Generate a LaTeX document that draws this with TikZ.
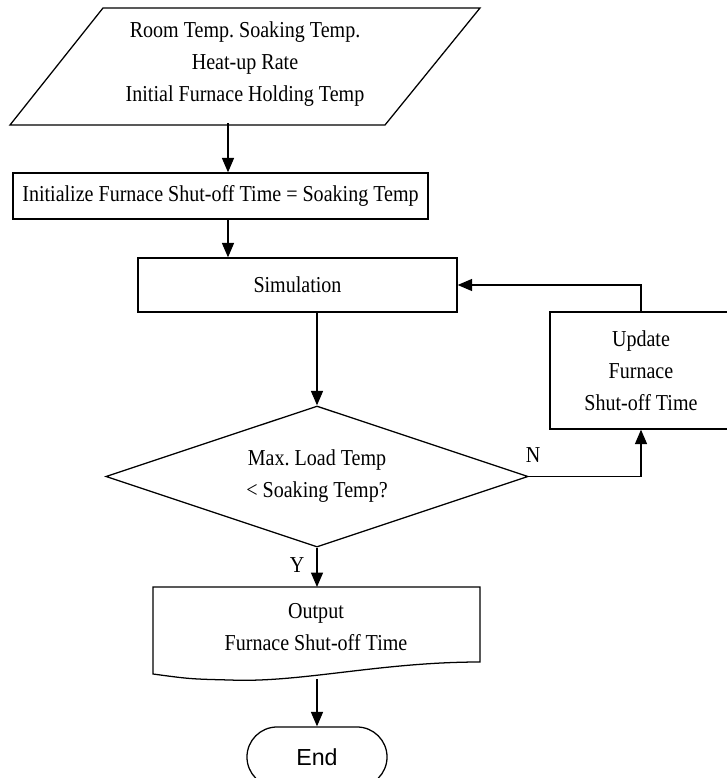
\documentclass[tikz,border=0pt]{standalone}
\usepackage{fontspec}
\setmainfont{Liberation Serif}[FakeStretch=0.88]
\setsansfont{Liberation Sans}
\usetikzlibrary{shapes.geometric,shapes.misc,arrows.meta}
\frenchspacing
\begin{document}
\begin{tikzpicture}[x=0.025cm,y=-0.025cm,line width=0.9pt]

\tikzstyle{procbox} = [draw,rectangle,inner sep=0,align=center,font=\fontsize{16.2}{22.8}\selectfont]
\tikzstyle{plain} = [inner sep=0,align=center,font=\fontsize{16.2}{22.8}\selectfont]
\tikzstyle{arr} = [-{Triangle[length=0.36cm,width=0.3cm]}]

\useasboundingbox (0,0) rectangle (727,778);
\clip (0,0) rectangle (727,778);

\draw (103,8) -- (480,8) -- (385,125) -- (10,125) -- cycle;
\node [plain,minimum height=2.925cm] (input) at (245,64) {Room Temp. Soaking Temp.\\Heat-up Rate\\Initial Furnace Holding Temp};

\node [procbox,minimum width=10.375cm,minimum height=1.15cm] (init) at (220.5,196) {Initialize Furnace Shut-off Time = Soaking Temp};
\node [procbox,minimum width=7.975cm,minimum height=1.35cm] (sim) at (297.5,285) {Simulation};
\node [procbox,diamond,aspect=3,minimum width=10.55cm,minimum height=3.525cm] (dec) at (317,476.5) {Max. Load Temp\\< Soaking Temp?};
\node [procbox,minimum width=4.55cm,minimum height=2.925cm] (update) at (641,370.5) {Update\\Furnace\\Shut-off Time};

\draw (153,587) -- (480,587) -- (480,662) .. controls (380,662) and (300,683) .. (230,680) .. controls (190,679) .. (153,674) -- cycle;
\node [plain] (output) at (316,627) {Output\\Furnace Shut-off Time};
\coordinate (outtop) at (317,587);
\coordinate (outbot) at (317,679);

\node [draw,rounded rectangle,inner sep=0,minimum width=3.5cm,minimum height=1.5cm,font=\sffamily\fontsize{16.5}{18}\selectfont] (end) at (317,757) {End};

\node [plain] (nlab) at (533,455) {N};
\node [plain] (ylab) at (297,565) {Y};

\draw [arr] (input.south -| 228,0) -- (init.north -| 228,0);
\draw [arr] (init.south -| 228,0) -- (sim.north -| 228,0);
\draw [arr] (sim.south -| dec.north) -- (dec.north);
\draw [arr] (dec.east) -| (update.south);
\draw [arr] (update.north) |- (sim.east);
\draw [arr] (dec.south) -- (outtop);
\draw [arr] (outbot) -- (end.north);
\end{tikzpicture}
\end{document}
